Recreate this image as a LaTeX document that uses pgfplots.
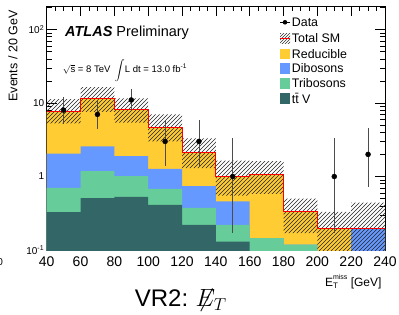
\documentclass[border=0pt]{standalone}
\usepackage{pgfplots}
\pgfplotsset{compat=1.18}
\usetikzlibrary{patterns}
\usepackage{fontspec}
\setmainfont{Liberation Sans}
\definecolor{redc}{RGB}{255,204,51}
\definecolor{dibc}{RGB}{102,153,255}
\definecolor{tric}{RGB}{102,204,153}
\definecolor{ttvc}{RGB}{51,102,102}
\pgfdeclarepatternformonly{hatchne}{\pgfqpoint{-1pt}{-1pt}}{\pgfqpoint{5pt}{5pt}}{\pgfqpoint{4pt}{4pt}}{
  \pgfsetlinewidth{0.5pt}
  \pgfpathmoveto{\pgfqpoint{0pt}{0pt}}
  \pgfpathlineto{\pgfqpoint{4.1pt}{4.1pt}}
  \pgfusepath{stroke}}
\begin{document}
\begin{tikzpicture}
\path[use as bounding box] (-46.7pt,-64pt) rectangle (352.3pt,250pt);
\begin{axis}[
  at={(0,0)}, anchor=south west,
  scale only axis, width=338.3pt, height=244pt,
  xmin=40, xmax=240, ymode=log, ymin=0.1, ymax=209,
  xtick={40,60,...,240}, minor x tick num=3,
  ytick={0.1,1,10,100},
  yticklabels={10\textsuperscript{-1},1,10,10\textsuperscript{2}},
  minor ytick={0.2,0.3,0.4,0.5,0.6,0.7,0.8,0.9,2,3,4,5,6,7,8,9,20,30,40,50,60,70,80,90,200},
  tick align=inside,
  major tick length=10pt, minor tick length=5pt,
  tick style={black, line width=0.5pt},
  axis line style={line width=0.6pt},
  /pgf/number format/assume math mode=true,
  xticklabel style={font=\fontsize{14}{14}\selectfont, yshift=-3pt},
  yticklabel style={font=\fontsize{10}{10}\selectfont, xshift=1pt},
  clip=true,
]
% stacked cumulative histograms (reducible = total)
\addplot[fill=redc, draw=none] coordinates {
 (40,0.05) (40,7.6) (60,7.6) (60,11.4) (80,11.4) (80,8.15) (100,8.15) (100,4.65) (120,4.65) (120,2.14) (140,2.14) (140,1.0) (160,1.0) (160,1.06) (180,1.06) (180,0.337) (200,0.337) (200,0.194) (220,0.194) (220,0.194) (240,0.194) (240,0.05)};
\addplot[fill=dibc, draw=none] coordinates {
 (40,0.05) (40,2.05) (60,2.05) (60,2.58) (80,2.58) (80,1.89) (100,1.89) (100,1.27) (120,1.27) (120,0.74) (140,0.74) (140,0.46) (160,0.46) (160,0.145) (180,0.145) (180,0.118) (200,0.118) (200,0.02) (220,0.02) (220,0.194) (240,0.194) (240,0.05)};
\addplot[fill=tric, draw=none] coordinates {
 (40,0.05) (40,0.70) (60,0.70) (60,1.18) (80,1.18) (80,1.01) (100,1.01) (100,0.68) (120,0.68) (120,0.375) (140,0.375) (140,0.22) (160,0.22) (160,0.145) (180,0.145) (180,0.118) (200,0.118) (200,0.02) (240,0.02) (240,0.05)};
\addplot[fill=ttvc, draw=none] coordinates {
 (40,0.05) (40,0.327) (60,0.327) (60,0.51) (80,0.51) (80,0.53) (100,0.53) (100,0.41) (120,0.41) (120,0.22) (140,0.22) (140,0.13) (160,0.13) (160,0.05) (240,0.05)};
% uncertainty band (hatched)
\addplot[draw=none, pattern=hatchne, pattern color=black!85] coordinates {
 (40,11.3) (60,11.3) (60,16.4) (80,16.4) (80,11.6) (100,11.6) (100,7.0) (120,7.0) (120,3.3) (140,3.3) (140,1.65) (160,1.65) (160,1.62) (180,1.62) (180,0.50) (200,0.50) (200,0.33) (220,0.33) (220,0.44) (240,0.44)
 (240,0.05) (220,0.05) (200,0.05) (200,0.17) (180,0.17) (180,0.58) (160,0.58) (160,0.55) (140,0.55) (140,1.3) (120,1.3) (120,3.0) (100,3.0) (100,5.4) (80,5.4) (80,7.6) (60,7.6) (60,5.3) (40,5.3)};
% total SM red line
\addplot[red, line width=0.9pt] coordinates {
 (40,7.6) (60,7.6) (60,11.4) (80,11.4) (80,8.15) (100,8.15) (100,4.65) (120,4.65) (120,2.14) (140,2.14) (140,1.0) (160,1.0) (160,1.06) (180,1.06) (180,0.337) (200,0.337) (200,0.194) (240,0.194)};
% data
\addplot[only marks, mark=*, mark size=2.5pt, black,
  error bars/.cd, y dir=both, y explicit, error mark=none,
  error bar style={black!70, line width=0.6pt}]
 coordinates {
 (50,8) += (0,3.96) -= (0,2.77)
 (70,7) += (0,3.78) -= (0,2.58)
 (90,11) += (0,4.36) -= (0,3.28)
 (110,3) += (0,2.92) -= (0,1.63)
 (130,3) += (0,2.92) -= (0,1.63)
 (150,1) += (0,2.30) -= (0,0.83)
 (210,1) += (0,2.30) -= (0,0.83)
 (230,2) += (0,2.64) -= (0,1.29)
 };
\end{axis}
% y label
\node[rotate=90, anchor=east, font=\fontsize{12.5}{12.5}\selectfont] at (-33.7pt,243pt) {Events / 20 GeV};
% x label
\node[anchor=base east, font=\fontsize{12}{12}\selectfont] at (338.3pt,-36.7pt) {E\raisebox{-0.3ex}{\makebox[0pt][l]{\fontsize{8}{8}\selectfont T}}\raisebox{1.1ex}{\fontsize{7}{7}\selectfont miss} [GeV]};
% ATLAS
\node[anchor=base west, font=\fontsize{14.5}{14.5}\selectfont, inner sep=0pt] at (18.3pt,213.3pt) {\textbf{\textit{ATLAS}} Preliminary};
\node[anchor=base west, font=\fontsize{9.5}{9.5}\selectfont, inner sep=0pt] at (16pt,177.3pt) {$\sqrt{\mathrm{s}}$ = 8 TeV};
\node[anchor=base west, font=\fontsize{9.5}{9.5}\selectfont, inner sep=0pt] at (68pt,177.3pt) {$\displaystyle\int$L dt = 13.0 fb\textsuperscript{-1}};
% legend
\begin{scope}[font=\fontsize{12.4}{12.4}\selectfont]
 \draw[black, line width=0.6pt] (233.3pt,227.7pt) -- (243.3pt,227.7pt);
 \fill[black] (238.3pt,227.7pt) circle (2.3pt);
 \node[anchor=west, inner sep=0pt] at (245pt,227.7pt) {Data};
 \fill[pattern=north east lines, pattern color=black!80] (233.3pt,206.7pt) rectangle (243.3pt,216.7pt);
 \draw[red, line width=0.8pt] (233.3pt,211.7pt) -- (243.3pt,211.7pt);
 \node[anchor=west, inner sep=0pt] at (245pt,211.7pt) {Total SM};
 \fill[redc] (233.3pt,190.7pt) rectangle (243.3pt,201pt);
 \node[anchor=west, inner sep=0pt] at (245pt,196pt) {Reducible};
 \fill[dibc] (233.3pt,176.5pt) rectangle (243.3pt,186.7pt);
 \node[anchor=west, inner sep=0pt] at (245pt,181.7pt) {Dibosons};
 \fill[tric] (233.3pt,161.5pt) rectangle (243.3pt,171.7pt);
 \node[anchor=west, inner sep=0pt] at (245pt,166.7pt) {Tribosons};
 \fill[ttvc] (233.3pt,146.5pt) rectangle (243.3pt,156.7pt);
 \node[anchor=west, inner sep=0pt] at (245pt,151.7pt) {t\={t} V};
\end{scope}
% title
\node[anchor=base, font=\fontsize{24}{24}\selectfont, inner sep=0pt] at (134pt,-56.7pt) {VR2: $\not\!\!E_T$};
% stray clipped label
\node[anchor=east, font=\fontsize{10}{10}\selectfont, inner sep=0pt] at (-43.5pt,-12pt) {10};
\end{tikzpicture}
\end{document}
